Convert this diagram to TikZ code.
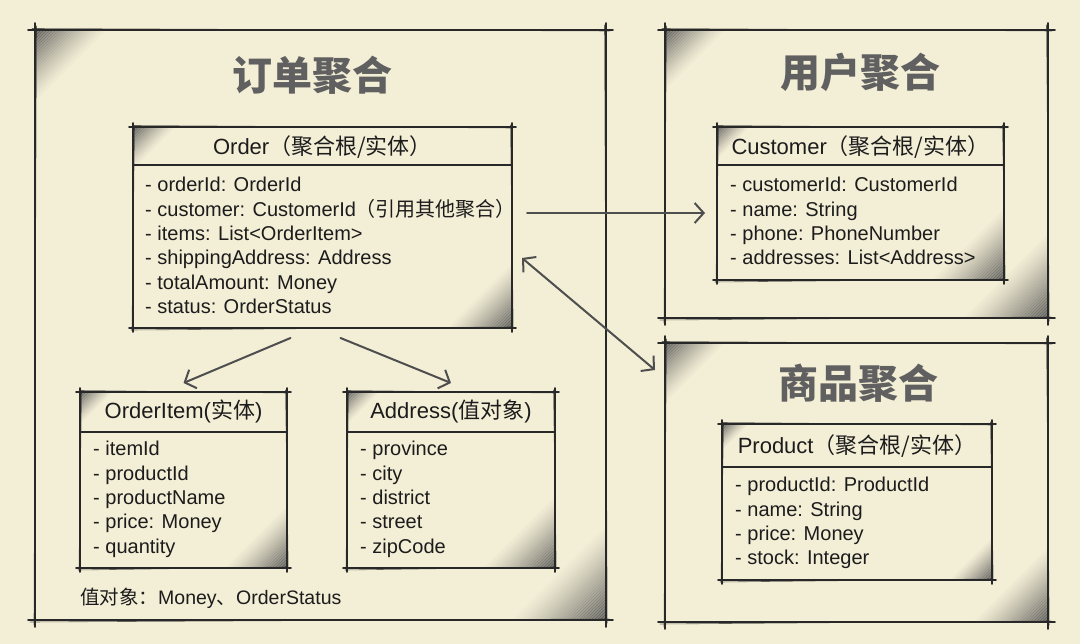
\documentclass[tikz,border=0pt]{standalone}
\usepackage{fontspec}
\setmainfont{Liberation Sans}
\newfontfamily\cjk{Noto Sans CJK SC}
\usetikzlibrary{calc,arrows.meta}
\definecolor{paper}{RGB}{243,238,214}
\definecolor{ink}{RGB}{40,40,40}
\definecolor{textink}{RGB}{28,28,28}
\definecolor{pencil}{RGB}{78,78,78}
\definecolor{titlegray}{RGB}{96,96,96}
\newcommand{\zh}[1]{{\cjk #1}}
\tikzset{
  frame/.style={draw=none, inner sep=0pt, outer sep=0pt, anchor=north west},
  sk/.style={draw=ink, line width=1.8pt, line cap=round},
  skt/.style={draw=ink, line width=0.6pt, line cap=round, draw opacity=0.7},
  hatchline/.style={draw=pencil, line width=0.8pt},
  hdr/.style={inner sep=0pt, font=\fontsize{22}{26}\selectfont, text=textink},
  attr/.style={inner sep=0pt, anchor=base west, font=\fontsize{20}{24}\selectfont, text=textink},
  title/.style={inner sep=0pt, font=\cjk\bfseries\fontsize{40}{44}\selectfont, text=titlegray},
  note/.style={inner sep=0pt, anchor=west, font=\fontsize{19.5}{24}\selectfont, text=textink},
  arr/.style={draw=pencil, line width=2pt, line cap=round, -{Straight Barb[length=9pt,width=20pt]}},
  darr/.style={draw=pencil, line width=2pt, line cap=round, {Straight Barb[length=9pt,width=20pt]}-{Straight Barb[length=9pt,width=20pt]}}
}
\newcommand{\sketchbox}[2]{%
  \draw[sk] ($(#1.north west)+(-#2,0)$) -- ($(#1.north east)+(#2,0)$);
  \draw[sk] ($(#1.south west)+(-#2,0)$) -- ($(#1.south east)+(#2,0)$);
  \draw[sk] ($(#1.north west)+(0,-#2)$) -- ($(#1.south west)+(0,#2)$);
  \draw[sk] ($(#1.north east)+(0,-#2)$) -- ($(#1.south east)+(0,#2)$);
  \draw[skt] ($(#1.north west)+(-#2+4,-1.5)$) -- ($(#1.north east)+(#2-3,1)$);
  \draw[skt] ($(#1.south west)+(-#2+2,2)$) -- ($(#1.south east)+(#2-4,-1)$);
  \draw[skt] ($(#1.north west)+(1.5,-#2+3)$) -- ($(#1.south west)+(-1,#2-2)$);
  \draw[skt] ($(#1.north east)+(-1.5,-#2+2)$) -- ($(#1.south east)+(1.2,#2-4)$);
}
\newcommand{\hatchbox}[3]{%
  \foreach \d in {1.5,3,...,#2}{%
    \pgfmathsetmacro\op{0.95*(1-\d/(#2+2))^1.3}
    \draw[hatchline, draw opacity=\op] ($(#1.north west)+(0,\d)$) -- ($(#1.north west)+(\d,0)$);}
  \foreach \d in {1.5,3,...,#3}{%
    \pgfmathsetmacro\op{0.95*(1-\d/(#3+2))^1.3}
    \draw[hatchline, draw opacity=\op] ($(#1.south east)+(-\d,0)$) -- ($(#1.south east)+(0,-\d)$);}
}
\begin{document}
\begin{tikzpicture}[x=1pt, y=-1pt]
\useasboundingbox (0,0) rectangle (1080,644);
\fill[paper] (0,0) rectangle (1080,644);

% aggregate frames
\node[frame, minimum width=571pt, minimum height=590pt] (oagg) at (35,30) {};
\node[frame, minimum width=383pt, minimum height=288pt] (cagg) at (665,30) {};
\node[frame, minimum width=383pt, minimum height=279pt] (pagg) at (665,343) {};
% class boxes
\node[frame, minimum width=379pt, minimum height=201pt] (ord) at (133,127) {};
\node[frame, minimum width=287pt, minimum height=153pt] (cust) at (717,127) {};
\node[frame, minimum width=270pt, minimum height=156pt] (prod) at (722,424) {};
\node[frame, minimum width=207pt, minimum height=176pt] (oi) at (80,392) {};
\node[frame, minimum width=208pt, minimum height=176pt] (addr) at (347,392) {};

% hatching
\hatchbox{oagg}{72}{95}
\hatchbox{cagg}{60}{85}
\hatchbox{pagg}{60}{75}
\hatchbox{ord}{42}{65}
\hatchbox{cust}{32}{72}
\hatchbox{prod}{26}{42}
\hatchbox{oi}{32}{62}
\hatchbox{addr}{32}{72}

% frames
\sketchbox{oagg}{7}
\sketchbox{cagg}{7}
\sketchbox{pagg}{7}
\sketchbox{ord}{4}
\sketchbox{cust}{4}
\sketchbox{prod}{4}
\sketchbox{oi}{4}
\sketchbox{addr}{4}

% header dividers
\draw[sk] ($(ord.north west)+(0,38)$) -- ($(ord.north east)+(0,38)$);
\draw[sk] ($(cust.north west)+(0,38)$) -- ($(cust.north east)+(0,38)$);
\draw[sk] ($(prod.north west)+(0,43)$) -- ($(prod.north east)+(0,43)$);
\draw[sk] ($(oi.north west)+(0,40)$) -- ($(oi.north east)+(0,40)$);
\draw[sk] ($(addr.north west)+(0,40)$) -- ($(addr.north east)+(0,40)$);

% titles
\node[title] (t1) at (312,75) {订单聚合};
\node[title] (t2) at (860,72) {用户聚合};
\node[title] (t3) at (858,383) {商品聚合};

% headers
\node[hdr] (ordh) at ($(ord.north)+(0,20)$) {Order\zh{（聚合根/实体）}};
\node[hdr] (custh) at ($(cust.north)+(0,20)$) {Customer\zh{（聚合根/实体）}};
\node[hdr] (prodh) at ($(prod.north)+(0,22)$) {Product\zh{（聚合根/实体）}};
\node[hdr] (oih) at ($(oi.north)+(0,19)$) {OrderItem(\zh{实体})};
\node[hdr] (addrh) at ($(addr.north)+(0,19)$) {Address(\zh{值对象})};

% attributes
\foreach \t [count=\i] in {- orderId: OrderId, - customer: CustomerId\zh{（引用其他聚合）}, - items: List<OrderItem>, - shippingAddress: Address, - totalAmount: Money, - status: OrderStatus}
  \node[attr] (ord-\i) at ($(ord.north west)+(12,{65+24.3*(\i-1)})$) {\t};
\foreach \t [count=\i] in {- customerId: CustomerId, - name: String, - phone: PhoneNumber, - addresses: List<Address>}
  \node[attr] (cust-\i) at ($(cust.north west)+(13,{65+24.3*(\i-1)})$) {\t};
\foreach \t [count=\i] in {- productId: ProductId, - name: String, - price: Money, - stock: Integer}
  \node[attr] (prod-\i) at ($(prod.north west)+(13,{68+24.3*(\i-1)})$) {\t};
\foreach \t [count=\i] in {- itemId, - productId, - productName, - price: Money, - quantity}
  \node[attr] (oi-\i) at ($(oi.north west)+(13,{64+24.3*(\i-1)})$) {\t};
\foreach \t [count=\i] in {- province, - city, - district, - street, - zipCode}
  \node[attr] (addr-\i) at ($(addr.north west)+(13,{64+24.3*(\i-1)})$) {\t};

% note
\node[note] (vo) at (80,598) {\zh{值对象：}Money\zh{、}OrderStatus};

% connectors
\draw[arr] ($(ord.south)+(-32,10)$) -- ($(oi.north)+(0,-9)$);
\draw[arr] ($(ord.south)+(18,10)$) -- ($(addr.north)+(0,-9)$);
\draw[arr] ($(ord.north east)+(15,86)$) -- ($(cust.north west)+(-12,86)$);
\draw[darr] ($(ord.north east)+(10,131)$) -- ($(pagg.north west)+(-10,27)$);
\end{tikzpicture}
\end{document}
